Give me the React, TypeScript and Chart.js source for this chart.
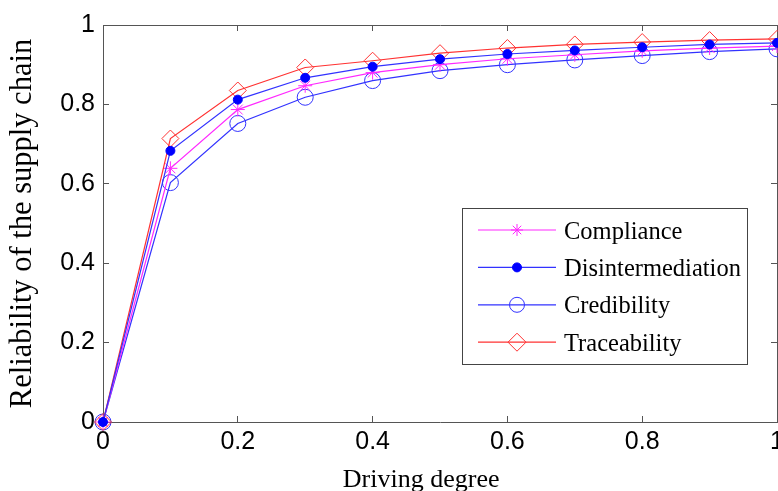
import { useEffect, useRef } from 'react';
import { Chart, registerables } from 'chart.js';

Chart.register(...registerables);

const drivingDegree = [0, 0.1, 0.2, 0.3, 0.4, 0.5, 0.6, 0.7, 0.8, 0.9, 1.0];
const compliance = [0, 0.639, 0.787, 0.847, 0.88, 0.9, 0.915, 0.925, 0.935, 0.942, 0.947];
const disintermediation = [0, 0.683, 0.812, 0.867, 0.895, 0.914, 0.927, 0.936, 0.944, 0.951, 0.955];
const credibility = [0, 0.603, 0.752, 0.818, 0.86, 0.885, 0.9, 0.912, 0.923, 0.933, 0.94];
const traceability = [0, 0.714, 0.835, 0.893, 0.91, 0.929, 0.942, 0.951, 0.957, 0.962, 0.965];

const seriesNames = ['Compliance', 'Disintermediation', 'Credibility', 'Traceability'];
const xTitle = 'Driving degree';
const yTitle = 'Reliability of the supply chain';
const tickStep = 0.2;

const axisColor = '#555555';
const sansFont = '"Liberation Sans", Arial, sans-serif';
const serifFont = '"Liberation Serif", "Times New Roman", serif';

const MAGENTA = 'rgb(255,40,255)';
const BLUE_DOT = 'rgb(0,0,255)';
const BLUE_LINE = 'rgb(50,50,255)';
const RED = 'rgb(255,50,50)';

function toPoints(ys: number[]) {
  return drivingDegree.map((x, i) => ({ x, y: ys[i] }));
}

function formatTick(v: any) {
  return String(Number(Number(v).toFixed(2)));
}

function drawMarker(ctx: CanvasRenderingContext2D, style: string, x: number, y: number, r: number, stroke: string, fill: string) {
  ctx.save();
  ctx.strokeStyle = stroke;
  ctx.fillStyle = fill;
  ctx.lineWidth = 1;
  ctx.beginPath();
  if (style === 'star') {
    for (let k = 0; k < 4; k++) {
      const a = (k * Math.PI) / 4;
      ctx.moveTo(x - r * Math.cos(a), y - r * Math.sin(a));
      ctx.lineTo(x + r * Math.cos(a), y + r * Math.sin(a));
    }
    ctx.stroke();
  } else if (style === 'rectRot') {
    ctx.moveTo(x, y - r);
    ctx.lineTo(x + r, y);
    ctx.lineTo(x, y + r);
    ctx.lineTo(x - r, y);
    ctx.closePath();
    ctx.fill();
    ctx.stroke();
  } else {
    ctx.arc(x, y, r, 0, Math.PI * 2);
    ctx.fill();
    ctx.stroke();
  }
  ctx.restore();
}

const insideLegend = {
  id: 'insideLegend',
  afterDraw(chart: any) {
    const { ctx, chartArea } = chart;
    const boxRight = chartArea.right - 30;
    const boxLeft = boxRight - 285;
    const boxTop = chartArea.top + 183;
    const boxBottom = boxTop + 156;
    ctx.save();
    ctx.fillStyle = '#ffffff';
    ctx.fillRect(boxLeft, boxTop, boxRight - boxLeft, boxBottom - boxTop);
    ctx.strokeStyle = '#444444';
    ctx.lineWidth = 1;
    ctx.strokeRect(boxLeft + 0.5, boxTop + 0.5, boxRight - boxLeft, boxBottom - boxTop);
    const legendOrder = [0, 1, 2, 3];
    legendOrder.forEach((di, row) => {
      const ds = chart.data.datasets[di];
      const y = boxTop + 22 + row * 37.4;
      ctx.strokeStyle = ds.borderColor;
      ctx.lineWidth = 1.2;
      ctx.beginPath();
      ctx.moveTo(boxLeft + 16, y);
      ctx.lineTo(boxLeft + 94, y);
      ctx.stroke();
      drawMarker(ctx, ds.pointStyle, boxLeft + 55, y, ds.legendMarkerRadius, ds.pointBorderColor, ds.pointBackgroundColor);
      ctx.fillStyle = '#000000';
      ctx.font = `24.5px ${serifFont}`;
      ctx.textAlign = 'left';
      ctx.textBaseline = 'alphabetic';
      ctx.fillText(ds.label, boxLeft + 102, y + 8.5);
    });

    // x-axis title (positioned as in the source figure, slightly left of centre)
    ctx.fillStyle = '#000000';
    ctx.font = `26px ${serifFont}`;
    ctx.textAlign = 'center';
    ctx.textBaseline = 'alphabetic';
    ctx.fillText(xTitle, chartArea.left + (chartArea.right - chartArea.left) * 0.472, chartArea.bottom + 65);
    ctx.restore();
  },
};

export default function App() {
  const canvasRef = useRef<HTMLCanvasElement | null>(null);

  useEffect(() => {
    document.body.style.margin = '0';
    const canvas = canvasRef.current;
    if (!canvas) return;

    const gridOpts = { drawOnChartArea: false, tickLength: -6, color: axisColor, tickColor: axisColor, lineWidth: 1 };
    const borderOpts = { display: true, color: axisColor, width: 1 };

    const chart = new Chart(canvas, {
      type: 'line',
      data: {
        datasets: [
          {
            label: seriesNames[0],
            data: toPoints(compliance),
            borderColor: MAGENTA,
            borderWidth: 1.2,
            pointStyle: 'star',
            pointRadius: 7,
            pointBorderColor: MAGENTA,
            pointBackgroundColor: 'rgba(0,0,0,0)',
            pointBorderWidth: 1,
            legendMarkerRadius: 6,
            clip: false,
            order: 2,
          } as any,
          {
            label: seriesNames[1],
            data: toPoints(disintermediation),
            borderColor: BLUE_LINE,
            borderWidth: 1.2,
            pointStyle: 'circle',
            pointRadius: 4.5,
            pointBorderColor: BLUE_DOT,
            pointBackgroundColor: BLUE_DOT,
            pointBorderWidth: 1,
            legendMarkerRadius: 4.5,
            clip: false,
            order: 0,
          } as any,
          {
            label: seriesNames[2],
            data: toPoints(credibility),
            borderColor: BLUE_LINE,
            borderWidth: 1.2,
            pointStyle: 'circle',
            pointRadius: 8,
            pointBorderColor: BLUE_LINE,
            pointBackgroundColor: 'rgba(0,0,0,0)',
            pointBorderWidth: 1,
            legendMarkerRadius: 7.5,
            clip: false,
            order: 3,
          } as any,
          {
            label: seriesNames[3],
            data: toPoints(traceability),
            borderColor: RED,
            borderWidth: 1.2,
            pointStyle: 'rectRot',
            pointRadius: 8.5,
            pointBorderColor: RED,
            pointBackgroundColor: 'rgba(0,0,0,0)',
            pointBorderWidth: 1,
            legendMarkerRadius: 9,
            clip: false,
            order: 1,
          } as any,
        ],
      },
      options: {
        responsive: false,
        animation: false,
        events: [],
        layout: { autoPadding: false, padding: { top: 25, right: 1, left: 0, bottom: 0 } },
        plugins: {
          legend: { display: false },
          tooltip: { enabled: false },
        },
        elements: { line: { tension: 0 } },
        scales: {
          x: {
            type: 'linear',
            position: 'bottom',
            min: 0,
            max: 1,
            ticks: {
              stepSize: tickStep,
              autoSkip: false,
              maxRotation: 0,
              padding: 11,
              color: '#000000',
              font: { family: sansFont, size: 25 },
              callback: formatTick,
            },
            grid: gridOpts,
            border: borderOpts,
            title: { display: false },
            afterFit: (s: any) => {
              s.height = 69;
              s.paddingLeft = 0;
              s.paddingRight = 0;
            },
          },
          x2: {
            type: 'linear',
            position: 'top',
            min: 0,
            max: 1,
            ticks: { stepSize: tickStep, display: false },
            grid: gridOpts,
            border: borderOpts,
            afterFit: (s: any) => {
              s.height = 0;
              s.paddingLeft = 0;
              s.paddingRight = 0;
            },
          },
          y: {
            type: 'linear',
            position: 'left',
            min: 0,
            max: 1,
            ticks: {
              stepSize: tickStep,
              padding: 14,
              color: '#000000',
              font: { family: sansFont, size: 25 },
              callback: formatTick,
            },
            grid: gridOpts,
            border: borderOpts,
            title: {
              display: true,
              text: yTitle,
              color: '#000000',
              font: { family: serifFont, size: 30.5, lineHeight: 1 },
              padding: { top: 8, bottom: 0 },
            },
            afterFit: (s: any) => {
              s.width = 103;
              s.paddingTop = 0;
              s.paddingBottom = 0;
            },
          },
          y2: {
            type: 'linear',
            position: 'right',
            min: 0,
            max: 1,
            ticks: { stepSize: tickStep, display: false },
            grid: gridOpts,
            border: borderOpts,
            afterFit: (s: any) => {
              s.width = 0;
              s.paddingTop = 0;
              s.paddingBottom = 0;
            },
          },
        },
      } as any,
      plugins: [insideLegend],
    });

    return () => chart.destroy();
  }, []);

  return (
    <div style={{ width: 778, height: 491, position: 'relative', overflow: 'hidden', background: '#ffffff' }}>
      <canvas ref={canvasRef} width={778} height={491} style={{ display: 'block' }} />
    </div>
  );
}
